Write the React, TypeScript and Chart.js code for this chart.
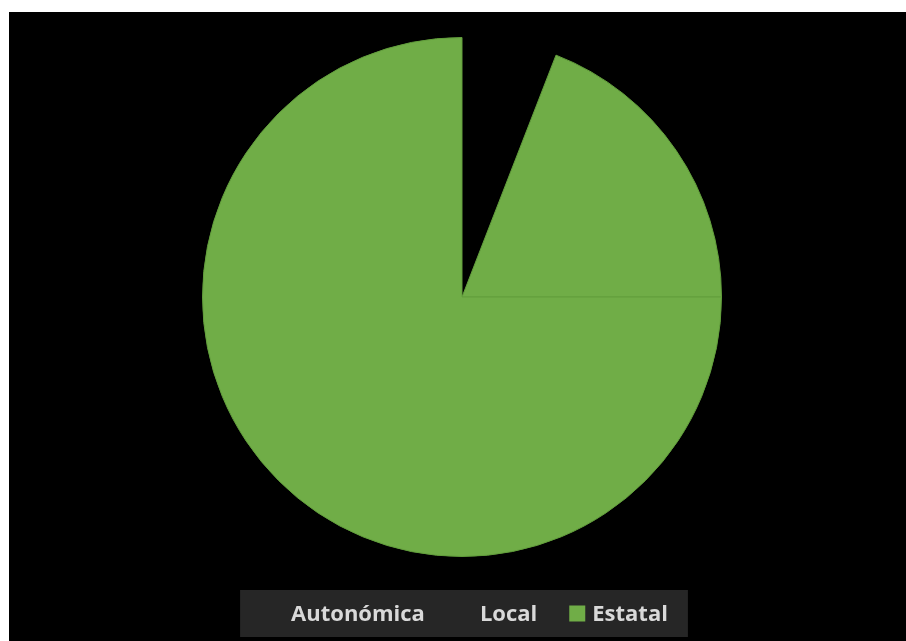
import React, { useEffect, useRef } from "react";
import { Chart, registerables } from "chart.js";

Chart.register(...registerables);

const categories = ["Autonómica", "Local", "Estatal"];
const sliceValues = [5.9, 19.1, 75.0];
const sliceColors = ["#000000", "#70AD47", "#70AD47"];
const sliceBorders = ["#000000", "#629E3C", "#629E3C"];
const legendColors = ["transparent", "transparent", "#70AD47"];

const legendPlugin = {
  id: "excelLegend",
  afterDraw(chart: any) {
    const ctx = chart.ctx as CanvasRenderingContext2D;
    const area = chart.chartArea;
    ctx.save();
    ctx.font = 'bold 22px "Open Sans", "DejaVu Sans", sans-serif';
    const box = 16;
    const boxGap = 7;
    const itemGap = 32;
    const padL = 28;
    const padR = 20;
    const widths = categories.map((c) => box + boxGap + ctx.measureText(c).width);
    const total = widths.reduce((a, b) => a + b, 0) + itemGap * (categories.length - 1);
    const boxW = total + padL + padR;
    const boxH = 47;
    const cx = (area.left + area.right) / 2 + 2;
    const left = cx - boxW / 2;
    const top = area.bottom + 33;
    ctx.fillStyle = "#262626";
    ctx.fillRect(left, top, boxW, boxH);
    let x = left + padL;
    const midY = top + boxH / 2;
    categories.forEach((c, i) => {
      ctx.fillStyle = legendColors[i];
      ctx.fillRect(x, midY - 8, box, box);
      ctx.fillStyle = "#D9D9D9";
      ctx.textBaseline = "middle";
      ctx.textAlign = "left";
      ctx.fillText(c, x + box + boxGap, midY + 1);
      x += widths[i] + itemGap;
    });
    ctx.restore();
  },
};

export default function App() {
  const ref = useRef<HTMLCanvasElement | null>(null);
  useEffect(() => {
    if (!ref.current) return;
    const chart = new Chart(ref.current, {
      type: "pie",
      data: {
        labels: categories,
        datasets: [
          {
            data: sliceValues,
            backgroundColor: sliceColors,
            borderColor: sliceBorders,
            borderWidth: 1,
          },
        ],
      },
      options: {
        animation: false,
        responsive: true,
        maintainAspectRatio: false,
        layout: { padding: { top: 25, bottom: 84, left: 9, right: 0 } },
        plugins: {
          legend: { display: false },
          tooltip: { enabled: false },
        },
      },
      plugins: [legendPlugin],
    });
    return () => chart.destroy();
  }, []);
  return (
    <div
      style={{
        position: "fixed",
        left: 9,
        top: 12,
        width: 897,
        height: 629,
        background: "#000000",
      }}
    >
      <canvas ref={ref} />
    </div>
  );
}
